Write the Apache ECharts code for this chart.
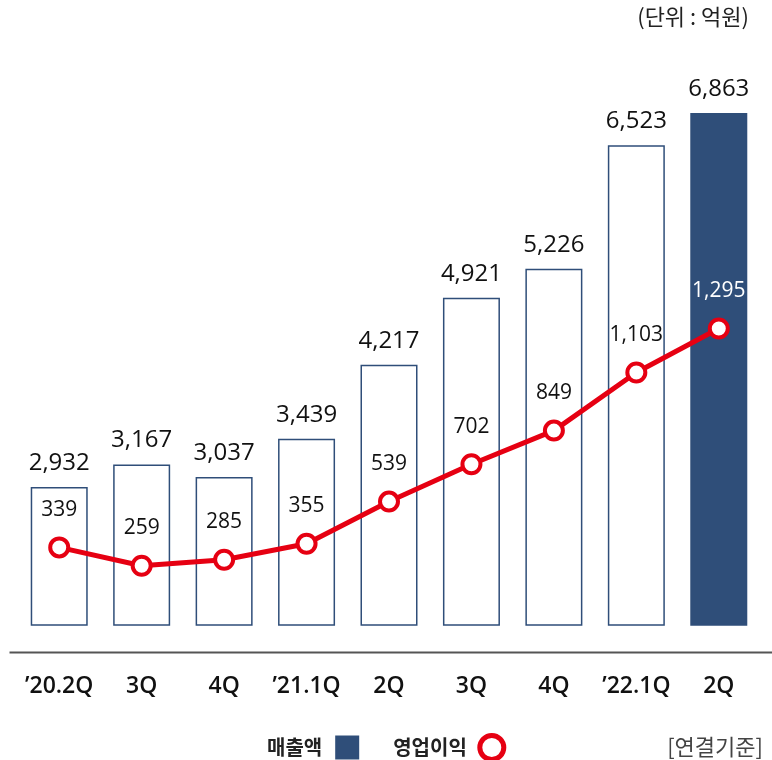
<!DOCTYPE html>
<html>
<head>
<meta charset="utf-8">
<script src="https://cdn.jsdelivr.net/npm/echarts@6/dist/echarts.min.js"></script>
<style>
  html, body { margin: 0; padding: 0; background: #fff; }
  #main { width: 772px; height: 760px; }
</style>
</head>
<body>
<div id="main"></div>
<script>
var quarters = ["’20.2Q", "3Q", "4Q", "’21.1Q", "2Q", "3Q", "4Q", "’22.1Q", "2Q"];
var sales = [2932, 3167, 3037, 3439, 4217, 4921, 5226, 6523, 6863];
var profit = [339, 259, 285, 355, 539, 702, 849, 1103, 1295];

var navy = '#2f4e79';
var red = '#e60012';
var fontKr = '"Noto Sans CJK KR", "Noto Sans", sans-serif';
var fontNum = '"Open Sans", "Noto Sans CJK KR", sans-serif';

var chart = echarts.init(document.getElementById('main'));

// 마지막 분기만 채워진 막대
var salesData = sales.map(function (v, i) {
    if (i === sales.length - 1) {
        return { value: v, itemStyle: { color: navy } };
    }
    return v;
});
var profitData = profit.map(function (v, i) {
    if (i === profit.length - 1) {
        return { value: v, label: { color: '#fff' } };
    }
    return v;
});

var option = {
    backgroundColor: '#fff',
    textStyle: { fontFamily: fontKr },
    animation: false,
    grid: {
        left: 18,
        right: 12,
        top: 113,
        bottom: 135
    },
    legend: {
        bottom: -7,
        left: 262,
        align: 'right',
        itemGap: 34,
        itemWidth: 24,
        itemHeight: 24,
        textStyle: { fontSize: 20, fontWeight: 'bold', color: '#222', fontFamily: fontKr, padding: [0, 8, 0, 0] },
        data: [
            { name: '매출액', icon: 'rect', itemStyle: { color: navy, borderWidth: 0 } },
            { name: '영업이익', icon: 'circle', itemStyle: { color: '#fff', borderColor: red, borderWidth: 5 } }
        ]
    },
    graphic: [
        {
            type: 'text', right: 23, top: 6,
            style: { text: '(단위 : 억원)', fontSize: 22, fill: '#222', fontFamily: fontKr }
        },
        {
            type: 'text', right: 9, bottom: 2,
            style: { text: '[연결기준]', fontSize: 22, fill: '#444', fontFamily: fontKr }
        },
        {
            type: 'line', left: 7, top: 650,
            shape: { x1: 0, y1: 0, x2: 765, y2: 0 },
            style: { stroke: '#555', lineWidth: 2 }
        }
    ],
    xAxis: {
        type: 'category',
        data: quarters,
        axisLine: { show: false },
        axisTick: { show: false },
        axisLabel: {
            interval: 0,
            margin: 50,
            fontSize: 23,
            fontWeight: 600,
            color: '#111',
            fontFamily: fontNum
        }
    },
    yAxis: [
        {
            type: 'value',
            min: 1480,
            max: 6863,
            show: false,
            splitLine: { show: false }
        },
        {
            type: 'value',
            min: 0,
            max: 2236,
            show: false,
            splitLine: { show: false }
        }
    ],
    series: [
        {
            name: '매출액',
            type: 'bar',
            yAxisIndex: 0,
            barWidth: 57,
            data: salesData,
            itemStyle: { color: '#fff', borderColor: navy, borderWidth: 1.5 },
            label: {
                show: true,
                position: 'top',
                distance: 12,
                fontSize: 24,
                color: '#111',
                fontFamily: fontNum,
                formatter: function (p) { return p.value.toLocaleString('en-US'); }
            }
        },
        {
            name: '영업이익',
            type: 'line',
            yAxisIndex: 1,
            data: profitData,
            symbol: 'circle',
            symbolSize: 18,
            lineStyle: { color: red, width: 5 },
            itemStyle: { color: '#fff', borderColor: red, borderWidth: 4 },
            label: {
                show: true,
                position: 'top',
                distance: 16,
                fontSize: 21,
                color: '#111',
                fontFamily: fontNum,
                formatter: function (p) { return p.value.toLocaleString('en-US'); }
            },
            z: 5
        }
    ]
};

chart.setOption(option);
</script>
</body>
</html>
